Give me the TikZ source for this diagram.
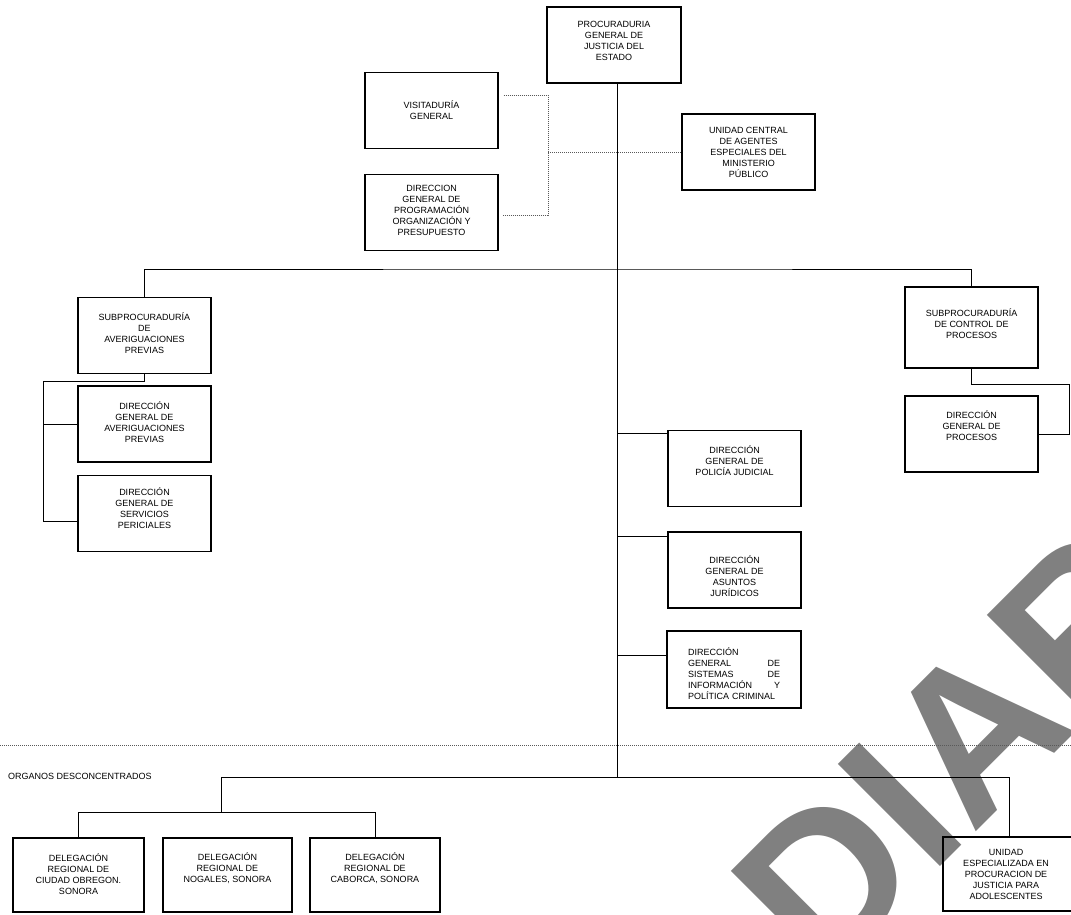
\documentclass[tikz,border=0pt]{standalone}
\usepackage{fontspec}
\setmainfont{Liberation Sans}
\begin{document}
\begin{tikzpicture}[x=1pt,y=-1pt,
  box/.style={draw=black, line width=1.1pt, minimum width=133pt, minimum height=76pt, inner sep=0pt},
  txt/.style={align=center, font=\fontsize{9}{11}\selectfont, inner sep=0pt},
  link/.style={draw=black, line width=1pt},
  dotline/.style={draw=black!65, line width=0.7pt, dash pattern=on 1pt off 1pt},
  wm/.style={text=black!50, font=\fontsize{210}{210}\selectfont\bfseries, inner sep=0pt, rotate=45}
]
\useasboundingbox (0,0) rectangle (1071,914);
\begin{scope}
  \clip (0,0) rectangle (1071,914);
  \node[wm] (wm) at (954,751) {DIAR};
\end{scope}

% boxes
\node[box, minimum width=134pt] (top) at (614,45) {};
\node[txt, yshift=4pt] (ttop) at (top) {PROCURADURIA\\GENERAL DE\\JUSTICIA DEL\\ESTADO};

\node[box] (visit) at (431.5,110.5) {};
\node[txt] (tvisit) at (visit) {VISITADURÍA\\GENERAL};

\node[box] (prog) at (431.5,212.5) {};
\node[txt, yshift=2pt] (tprog) at (prog) {DIRECCION\\GENERAL DE\\PROGRAMACIÓN\\ORGANIZACIÓN Y\\PRESUPUESTO};

\node[box] (unic) at (748.5,152) {};
\node[txt] (tunic) at (unic) {UNIDAD CENTRAL\\DE AGENTES\\ESPECIALES DEL\\MINISTERIO\\PÚBLICO};

\node[box] (subap) at (144.5,335.5) {};
\node[txt, yshift=2pt] (tsubap) at (subap) {SUBPROCURADURÍA\\DE\\AVERIGUACIONES\\PREVIAS};

\node[box] (dgap) at (144.5,424) {};
\node[txt, yshift=2pt] (tdgap) at (dgap) {DIRECCIÓN\\GENERAL DE\\AVERIGUACIONES\\PREVIAS};

\node[box] (dgsp) at (144.5,513.5) {};
\node[txt, yshift=5pt] (tdgsp) at (dgsp) {DIRECCIÓN\\GENERAL DE\\SERVICIOS\\PERICIALES};

\node[box, minimum height=81pt] (subcp) at (971.5,327.5) {};
\node[txt, yshift=4pt] (tsubcp) at (subcp) {SUBPROCURADURÍA\\DE CONTROL DE\\PROCESOS};

\node[box] (dgpro) at (971.5,434) {};
\node[txt, yshift=8pt] (tdgpro) at (dgpro) {DIRECCIÓN\\GENERAL DE\\PROCESOS};

\node[box] (poli) at (734.5,468.5) {};
\node[txt, yshift=8pt] (tpoli) at (poli) {DIRECCIÓN\\GENERAL DE\\POLICÍA JUDICIAL};

\node[box] (asun) at (734.5,570) {};
\node[txt, yshift=-6pt] (tasun) at (asun) {DIRECCIÓN\\GENERAL DE\\ASUNTOS\\JURÍDICOS};

\node[box, minimum width=134pt, minimum height=77pt] (sist) at (734,669.5) {};
\node[txt, align=left, text width=92pt, yshift=-4pt] (tsist) at (sist) {DIRECCIÓN\\GENERAL\hfill DE\\SISTEMAS\hfill DE\\INFORMACIÓN\hfill Y\\POLÍTICA CRIMINAL};

\node[txt, anchor=west] (org) at (8,776) {ORGANOS DESCONCENTRADOS};

\node[box, minimum width=131pt, minimum height=74pt] (del1) at (78.5,875) {};
\node[txt, yshift=1pt] (tdel1) at (del1) {DELEGACIÓN\\REGIONAL DE\\CIUDAD OBREGON.\\SONORA};

\node[box, minimum width=129pt, minimum height=74pt] (del2) at (227.5,875) {};
\node[txt, yshift=7pt] (tdel2) at (del2) {DELEGACIÓN\\REGIONAL DE\\NOGALES, SONORA};

\node[box, minimum width=130pt, minimum height=74pt] (del3) at (375,875) {};
\node[txt, yshift=7pt] (tdel3) at (del3) {DELEGACIÓN\\REGIONAL DE\\CABORCA, SONORA};

\node[box, minimum width=132pt, minimum height=74pt] (unie) at (1009,874) {};
\node[txt] (tunie) at (1006,874) {UNIDAD\\ESPECIALIZADA EN\\PROCURACION DE\\JUSTICIA PARA\\ADOLESCENTES};

% junction coordinates
\coordinate (j1) at (617,269);
\coordinate (j2) at (617,777);
\coordinate (la) at (43,381);
\coordinate (ra) at (1069,384);
\coordinate (jb) at (221,812);
\coordinate (dv) at (548,95);
\coordinate (dl) at (0,745);
\coordinate (dr) at (1071,745);
\coordinate (cvis) at ([xshift=5pt,yshift=15.5pt]visit.east);
\coordinate (cprog) at ([xshift=4pt,yshift=-2.5pt]prog.east);
\coordinate (csp) at ([yshift=-7.5pt]dgsp.west);
\coordinate (cpoli) at ([yshift=-4pt]poli.north west);
\coordinate (casun) at ([yshift=-5pt]asun.north west);
\coordinate (csist) at ([yshift=-25pt]sist.north west);

% solid connectors
\draw[link] (top.south -| j1) -- (j2);
\draw[link] (subap.north) |- (j1) -| (subcp.north);
\draw[link] (subap.south) |- (la) |- (csp);
\draw[link] (dgap.west) -- (dgap.west -| la);
\draw[link] (subcp.south) |- (ra) |- (dgpro.east);
\draw[link] (cpoli) -- (cpoli -| j1);
\draw[link] (casun) -- (casun -| j1);
\draw[link] (csist) -- (csist -| j1);
\draw[link] (unie.north) |- (j2) -| (jb);
\draw[link] (del1.north) |- (jb) -| (del3.north);

% dotted connectors
\draw[dotline] (cvis) -- (dv) |- (cprog);
\draw[dotline] (dv |- unic.west) -- (unic.west);
\draw[dotline] (dl) -- (dr);
\end{tikzpicture}
\end{document}
